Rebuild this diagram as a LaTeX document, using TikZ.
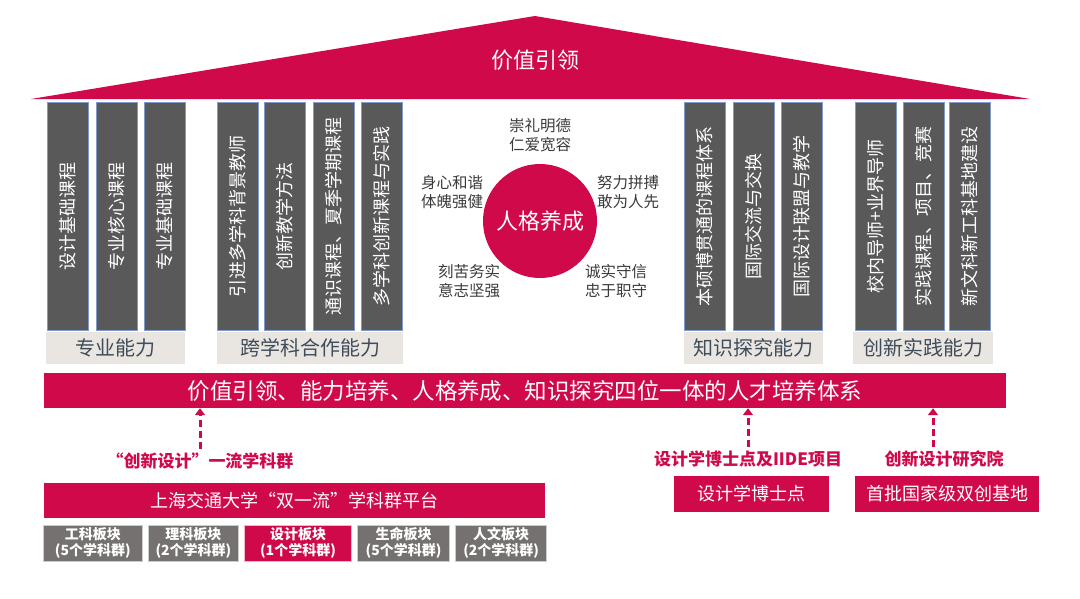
\documentclass[tikz,border=0pt]{standalone}
\usepackage{fontspec}
\setmainfont{Noto Sans CJK SC}
\usepackage{tikz}
\usetikzlibrary{arrows.meta, positioning}

\definecolor{crimson}{RGB}{208,10,74}
\definecolor{pillargrey}{RGB}{89,89,89}
\definecolor{pillarline}{RGB}{126,155,203}
\definecolor{basegrey}{RGB}{233,230,225}
\definecolor{slate}{RGB}{63,76,89}
\definecolor{blockgrey}{RGB}{118,113,113}
\definecolor{virtuetext}{RGB}{58,58,58}

\newcommand{\fsz}[1]{\fontsize{#1}{#1}\selectfont}

\begin{document}
\begin{tikzpicture}[
            x=1pt, y=-1pt,
            pillar/.style={rectangle, rotate=90, minimum width=228pt, minimum height=41pt, inner sep=0pt, draw=pillarline, line width=0.8pt, fill=pillargrey, text=white, font=\fsz{18}},
            ability/.style={rectangle, minimum height=32pt, inner sep=0pt, fill=basegrey, text=slate, font=\fsz{20}},
            virtue/.style={align=center, text=virtuetext, font=\fontsize{15.5}{19}\selectfont},
            band/.style={rectangle, inner sep=0pt, fill=crimson, text=white},
            block/.style={rectangle, minimum height=36pt, inner sep=0pt, draw=black!20, line width=0.6pt, fill=blockgrey, text=white, align=center, font=\bfseries\fontsize{14}{16}\selectfont},
            source/.style={inner sep=1pt, text=crimson, font=\bfseries\fsz{17}},
            arrow/.style={crimson, line width=3pt, dash pattern=on 7pt off 4pt, -{Triangle[width=10pt,length=7pt]}}
            ]

            \useasboundingbox (0,0) rectangle (1080,598);

            % roof
            \fill [crimson] (31,99) -- (535,16) -- (1030,99) -- cycle;
            \node (value) [text=white, font=\fsz{22}] at (535,60) {价值引领};

            % pillars
            \node (p1) [pillar] at (67.5,216) {设计基础课程};
            \node (p2) [pillar] at (116.5,216) {专业核心课程};
            \node (p3) [pillar] at (165,216) {专业基础课程};
            \node (pro) [ability, minimum width=139pt] at (115.5,348) {专业能力};

            \node (c1) [pillar] at (237.5,216) {引进多学科背景教师};
            \node (c2) [pillar] at (285,216) {创新教学方法};
            \node (c3) [pillar] at (333.5,216) {通识课程、夏季学期课程};
            \node (c4) [pillar] at (381.5,216) {多学科创新课程与实践};
            \node (cross) [ability, minimum width=186pt] at (310,348) {跨学科合作能力};

            \node (k1) [pillar] at (704.5,216) {本硕博贯通的课程体系};
            \node (k2) [pillar] at (753.5,216) {国际交流与交换};
            \node (k3) [pillar] at (801.5,216) {国际设计联盟与教学};
            \node (know) [ability, minimum width=139pt] at (753.5,348) {知识探究能力};

            \node (i1) [pillar] at (876,216) {校内导师+业界导师};
            \node (i2) [pillar] at (923.5,216) {实践课程、项目、竞赛};
            \node (i3) [pillar] at (970,216) {新文科新工科基地建设};
            \node (inno) [ability, minimum width=140pt] at (923,348) {创新实践能力};

            % character
            \node (character) [circle, minimum size=114pt, inner sep=0pt, fill=crimson, text=white, font=\fsz{22}] at (540,221) {人格养成};
            \node (v1) [virtue] at (540,135) {崇礼明德\\仁爱宽容};
            \node (v2) [virtue] at (452,192) {身心和谐\\体魄强健};
            \node (v3) [virtue] at (628,192) {努力拼搏\\敢为人先};
            \node (v4) [virtue] at (469,281) {刻苦务实\\意志坚强};
            \node (v5) [virtue] at (616,281) {诚实守信\\忠于职守};

            % system
            \node (system) [band, minimum width=962pt, minimum height=35pt, font=\fsz{22.5}] at (525,390.5) {价值引领、能力培养、人格养成、知识探究四位一体的人才培养体系};

            % base
            \node (cluster) [source] at (200,461) {“创新设计”一流学科群};
            \node (platform) [band, minimum width=501pt, minimum height=35pt, font=\fsz{18}] at (294.5,500.5) {上海交通大学“双一流”学科群平台};
            \node (eng) [block, minimum width=99pt, anchor=north west] at (43,525) {工科板块\\(5个学科群)};
            \node (sci) [block, minimum width=90pt, right=5.5pt of eng] {理科板块\\(2个学科群)};
            \node (des) [block, minimum width=107pt, right=5.5pt of sci, fill=crimson, draw=crimson!30] {设计板块\\(1个学科群)};
            \node (life) [block, minimum width=92pt, right=5.5pt of des] {生命板块\\(5个学科群)};
            \node (hum) [block, minimum width=91pt, right=5.5pt of life] {人文板块\\(2个学科群)};

            \node (phd) [source] at (748,459) {设计学博士点及IIDE项目};
            \node (phdbox) [band, minimum width=155pt, minimum height=36pt, font=\fsz{18}] at (751.5,494) {设计学博士点};
            \node (institute) [source] at (944,459) {创新设计研究院};
            \node (basebox) [band, minimum width=184pt, minimum height=36pt, font=\fsz{18}] at (947,494) {首批国家级双创基地};

            \draw [arrow] ([yshift=3pt]cluster.north) -- (cluster.north |- system.south);
            \draw [arrow] ([yshift=3pt]phd.north) -- (phd.north |- system.south);
            \draw [arrow] ([xshift=-11pt, yshift=3pt]institute.north) -- ([xshift=-11pt]institute.north |- system.south);
        \end{tikzpicture}
\end{document}
